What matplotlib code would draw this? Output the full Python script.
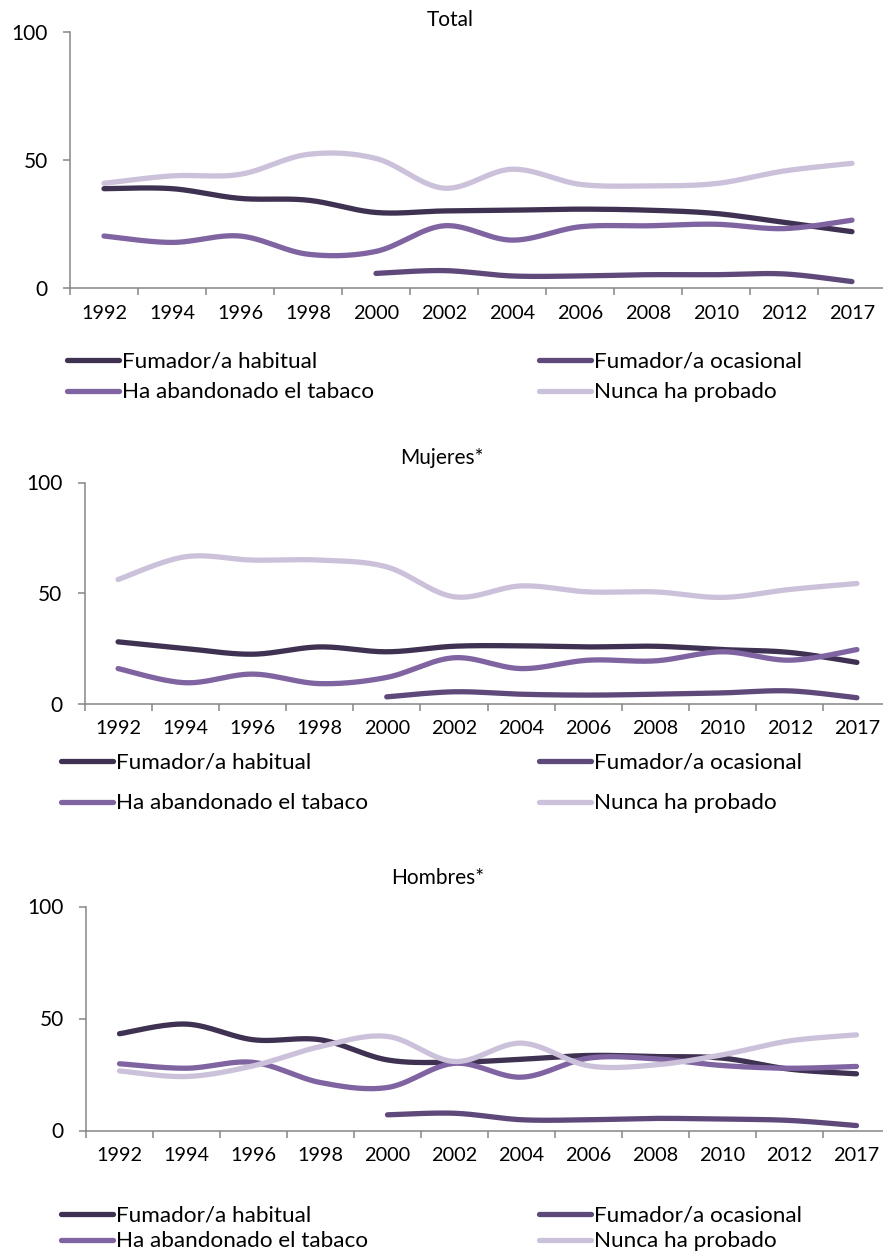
import numpy as np
import matplotlib
matplotlib.use("Agg")
import matplotlib.pyplot as plt
from matplotlib.lines import Line2D

plt.rcParams['font.family'] = ['Lato', 'DejaVu Sans']

years = ["1992", "1994", "1996", "1998", "2000", "2002", "2004", "2006", "2008", "2010", "2012", "2017"]
series_names = ["Fumador/a habitual", "Fumador/a ocasional", "Ha abandonado el tabaco", "Nunca ha probado"]
colors = ["#3f3151", "#5f497a", "#8064a2", "#ccc1da"]

# Total
total_habitual = [38.8, 38.8, 35.0, 34.3, 29.5, 30.1, 30.4, 30.8, 30.4, 29.1, 25.6, 22.0]
total_ocasional = [None, None, None, None, 5.7, 6.8, 4.7, 4.7, 5.2, 5.2, 5.5, 2.5]
total_abandonado = [20.3, 17.8, 20.3, 13.2, 14.3, 24.3, 18.7, 23.9, 24.3, 24.9, 23.2, 26.5]
total_nunca = [40.9, 43.8, 44.4, 52.2, 50.6, 39.0, 46.4, 40.5, 39.9, 40.8, 45.7, 48.7]

# Mujeres
muj_habitual = [27.9, 24.9, 22.3, 25.6, 23.4, 25.9, 26.1, 25.6, 25.9, 24.4, 23.1, 18.6]
muj_ocasional = [None, None, None, None, 3.0, 5.3, 4.2, 3.8, 4.2, 4.8, 5.7, 2.6]
muj_abandonado = [15.8, 9.4, 13.3, 9.0, 11.8, 20.7, 15.8, 19.6, 19.3, 23.4, 19.6, 24.4]
muj_nunca = [56.1, 66.4, 64.9, 64.9, 61.8, 48.3, 53.2, 50.5, 50.5, 48.0, 51.6, 54.3]

# Hombres
hom_habitual = [43.2, 47.5, 40.5, 40.5, 31.5, 30.5, 31.8, 33.5, 33.0, 32.3, 27.4, 25.3]
hom_ocasional = [None, None, None, None, 7.0, 7.7, 4.8, 4.8, 5.4, 5.1, 4.5, 2.2]
hom_abandonado = [29.8, 27.8, 30.4, 21.4, 19.2, 30.0, 23.8, 32.3, 32.0, 29.0, 27.8, 28.6]
hom_nunca = [26.6, 24.1, 28.9, 37.5, 42.0, 30.8, 39.0, 28.9, 29.3, 33.8, 40.0, 42.7]

panels = [
    ("Total", [total_habitual, total_ocasional, total_abandonado, total_nunca]),
    ("Mujeres*", [muj_habitual, muj_ocasional, muj_abandonado, muj_nunca]),
    ("Hombres*", [hom_habitual, hom_ocasional, hom_abandonado, hom_nunca]),
]

W, H = 883, 1253
fig = plt.figure(figsize=(W / 100, H / 100), dpi=100)

layout = [
    dict(left=70, y0=288, y100=32, width=816, title=(450, 20), leg_y=(362, 392), leg_x=(67, 539)),
    dict(left=84.5, y0=703.5, y100=482.5, width=806, title=(442, 458), leg_y=(763, 803), leg_x=(61, 539)),
    dict(left=86, y0=1130.5, y100=906.5, width=804, title=(438, 878), leg_y=(1216, 1241), leg_x=(61, 539)),
]


def smooth_curve(xs, ys, n=30):
    xs = np.asarray(xs, float)
    ys = np.asarray(ys, float)
    px = np.concatenate([[xs[0]], xs, [xs[-1]]])
    py = np.concatenate([[ys[0]], ys, [ys[-1]]])
    outx, outy = [], []
    t = np.linspace(0, 1, n)
    for i in range(1, len(px) - 2):
        p0x, p1x, p2x, p3x = px[i - 1], px[i], px[i + 1], px[i + 2]
        p0y, p1y, p2y, p3y = py[i - 1], py[i], py[i + 1], py[i + 2]
        c1x = p1x + (p2x - p0x) / 6
        c1y = p1y + (p2y - p0y) / 6
        c2x = p2x - (p3x - p1x) / 6
        c2y = p2y - (p3y - p1y) / 6
        bx = (1 - t) ** 3 * p1x + 3 * (1 - t) ** 2 * t * c1x + 3 * (1 - t) * t ** 2 * c2x + t ** 3 * p2x
        by = (1 - t) ** 3 * p1y + 3 * (1 - t) ** 2 * t * c1y + 3 * (1 - t) * t ** 2 * c2y + t ** 3 * p2y
        outx.append(bx)
        outy.append(by)
    return np.concatenate(outx), np.concatenate(outy)


axis_color = "#868686"
lw = 3.8

for (title, data), L in zip(panels, layout):
    ax = fig.add_axes([L['left'] / W, 1 - L['y0'] / H, L['width'] / W, (L['y0'] - L['y100']) / H])
    ax.set_xlim(-0.5, len(years) - 0.5)
    ax.set_ylim(0, 100)
    for s in ['top', 'right']:
        ax.spines[s].set_visible(False)
    for s in ['left', 'bottom']:
        ax.spines[s].set_color(axis_color)
        ax.spines[s].set_linewidth(1.1)
    handles = []
    for vals, col, name in zip(data, colors, series_names):
        idx = [i for i, v in enumerate(vals) if v is not None]
        yv = [vals[i] for i in idx]
        sx, sy = smooth_curve(idx, yv)
        ax.plot(sx, sy, color=col, lw=lw, solid_capstyle='round', clip_on=False)
        handles.append(Line2D([], [], color=col, lw=lw, solid_capstyle='round'))
    ax.set_xticks(range(len(years)))
    ax.set_xticklabels(years)
    ax.set_xticks(np.arange(-0.5, len(years), 1.0), minor=True)
    ax.tick_params(axis='x', which='major', length=0, pad=12, labelsize=14.3)
    ax.tick_params(axis='x', which='minor', length=5, width=1.1, color=axis_color, direction='out')
    ax.set_yticks([0, 50, 100])
    ax.tick_params(axis='y', which='major', length=5, width=1.1, color=axis_color, pad=11, labelsize=15)
    fig.text(L['title'][0] / W, 1 - L['title'][1] / H, title, ha='center', va='center', fontsize=15)

    y1, y2 = L['leg_y']
    fs = 16.2
    fpx = fs * 100 / 72
    for col_i, xleft in enumerate(L['leg_x']):
        hh = [handles[col_i], handles[col_i + 2]]
        ll = [series_names[col_i], series_names[col_i + 2]]
        row_h = fpx * 0.86
        spacing = ((y2 - y1) - row_h) / fpx
        fig.legend(hh, ll, loc='center left',
                   bbox_to_anchor=(xleft / W, 1 - ((y1 + y2) / 2) / H),
                   frameon=False, fontsize=fs, handlelength=2.3, handletextpad=0.15,
                   borderpad=0, borderaxespad=0, labelspacing=spacing, handleheight=0.5)

fig.savefig("out.png", dpi=100)
